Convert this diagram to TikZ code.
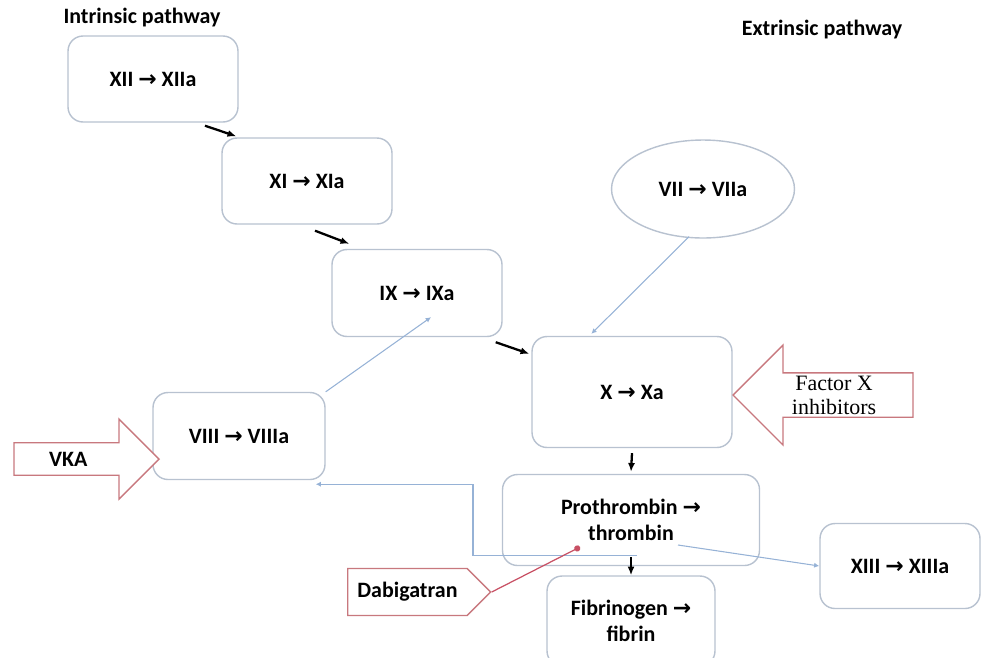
\documentclass[tikz,border=0pt]{standalone}
\usepackage{fontspec}
\setmainfont{Carlito}
\newfontfamily\arrowfont{DejaVu Sans}
\newfontfamily\serifnote{Liberation Serif}
\usetikzlibrary{arrows.meta,positioning,calc,shapes.geometric,shapes.arrows,shapes.symbols}
\definecolor{BoxLine}{RGB}{184,194,208}
\definecolor{LinkBlue}{RGB}{150,178,214}
\definecolor{DrugRed}{RGB}{200,120,126}
\definecolor{DrugLine}{RGB}{200,80,100}
\newcommand{\conv}{{\arrowfont\bfseries →}}

\begin{document}
\begin{tikzpicture}[
    x=0.02cm, y=-0.02cm,
    box/.style={draw=BoxLine, line width=0.8pt, rounded corners=0.3cm, fill=white,
                align=center, font=\bfseries\fontsize{12.5}{15}\selectfont},
    title/.style={font=\bfseries\fontsize{12.5}{15}\selectfont},
    drug/.style={draw=DrugRed, line width=0.8pt, fill=white},
    arr/.style={-{Latex[length=5pt,width=4pt]}, line width=1.3pt},
    link/.style={-{Latex[length=3pt,width=3pt]}, draw=LinkBlue, line width=0.6pt},
    block/.style={-{Circle[length=3.5pt]}, draw=DrugLine, line width=0.7pt}
]
    \clip (0,0) rectangle (982,657);

    % pathway titles
    \node[title] (intr) at (142,18) {Intrinsic pathway};
    \node[title] (extr) at (822,30) {Extrinsic pathway};

    % factors
    \node[box, minimum width=3.4cm, minimum height=1.72cm] (fxii) at (153,79) {XII \conv{} XIIa};
    \node[box, minimum width=3.4cm, minimum height=1.72cm] (fxi) at (307,181) {XI \conv{} XIa};
    \node[box, minimum width=3.4cm, minimum height=1.74cm] (fix) at (417,293) {IX \conv{} IXa};
    \node[box, minimum width=4cm, minimum height=2.22cm] (fx) at (632,392) {X \conv{} Xa};
    \node[box, ellipse, minimum width=3.66cm, minimum height=1.96cm] (fvii) at (703,189) {VII \conv{} VIIa};
    \node[box, minimum width=3.44cm, minimum height=1.74cm] (fviii) at (239,436) {VIII \conv{} VIIIa};
    \node[box, minimum width=5.14cm, minimum height=1.82cm] (prot) at (631,520) {Prothrombin \conv\\thrombin};
    \node[box, minimum width=3.36cm, minimum height=1.8cm] (fibr) at (631,621) {Fibrinogen \conv\\fibrin};
    \node[box, minimum width=3.2cm, minimum height=1.7cm] (fxiii) at (900,566) {XIII \conv{} XIIIa};

    % drugs
    \node[drug, single arrow, single arrow head extend=0.4cm, minimum height=2.9cm,
          minimum width=1.6cm, anchor=tip, title, text depth=0pt] (vka) at (160,459) {\hspace*{-0.4cm}VKA};
    \node[drug, single arrow, shape border rotate=180, single arrow head extend=0.5cm,
          minimum height=3.6cm, minimum width=2cm, anchor=tip, inner sep=0pt, align=center,
          font=\serifnote\fontsize{12.5}{13.6}\selectfont] (fxinh) at (732,395) {Factor X\\inhibitors};
    \node[drug, signal, signal to=east, signal pointer angle=90, minimum width=2.86cm,
          minimum height=0.94cm, anchor=west, title] (dabi) at (347,592) {Dabigatran};

    % cascade
    \draw[arr] ($(fxii.south)+(52,3)$) -- ($(fxi.north west)+(15,-1)$);
    \draw[arr] ($(fxi.south)+(8,6)$) -- ($(fix.north west)+(18,-5)$);
    \draw[arr] ($(fix.south east)+(-7,5)$) -- ($(fx.north west)+(-2,18)$);
    \draw[arr] ($(fx.south)+(0,5)$) -- ($(prot.north)+(0,-2)$);
    \draw[arr] ($(prot.south)+(0,-9)$) -- (fibr.north);

    % feedback
    \coordinate (viiiend) at ($(fviii.south east)+(-10,4)$);
    \coordinate (thrdot) at ($(prot.center)+(-51,27)$);
    \draw[link] ($(fvii.south)+(-14,-2)$) -- ($(fx.north west)+(60,-2)$);
    \draw[link] (fviii.north east) -- ($(fix.south)+(14,-20)$);
    \draw[link] ($(prot.center)+(47,25)$) -- (fxiii.west);
    \draw[link] ($(prot.south)+(6,-11)$) -- ++(-164,0) |- (viiiend);
    \draw[block] (dabi.east) -- (thrdot);
\end{tikzpicture}
\end{document}
